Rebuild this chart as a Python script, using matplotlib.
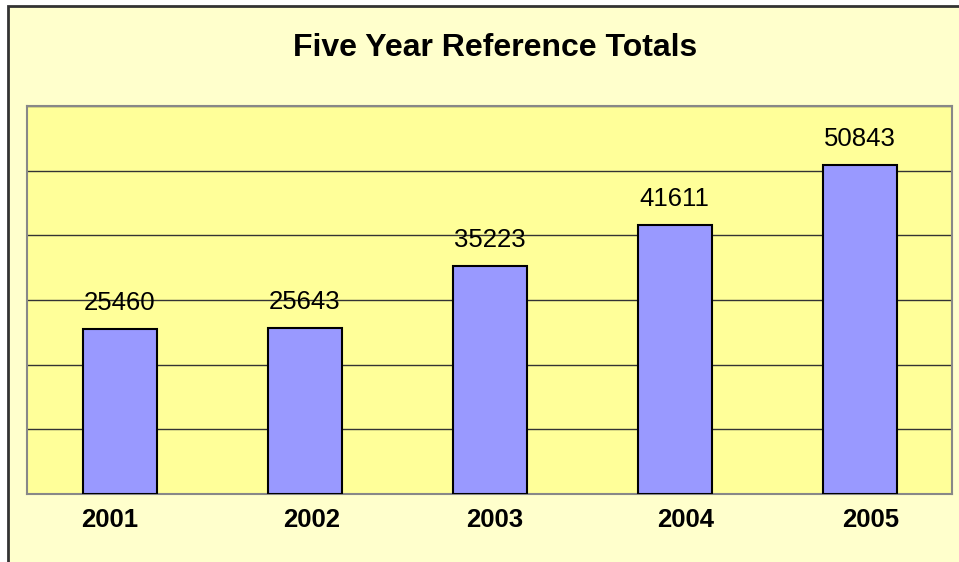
import matplotlib
matplotlib.use('Agg')
import matplotlib.pyplot as plt
from matplotlib.patches import Rectangle
from matplotlib.transforms import ScaledTranslation

years = ['2001', '2002', '2003', '2004', '2005']
totals = [25460, 25643, 35223, 41611, 50843]
title = 'Five Year Reference Totals'

plt.rcParams['font.family'] = ['Liberation Sans', 'DejaVu Sans']

W, H = 959, 562
fig = plt.figure(figsize=(W / 100, H / 100), dpi=100, facecolor='white')

# chart area frame (light yellow, dark border on top/left; cut off at right/bottom)
fig.patches.append(Rectangle((8 / W, -0.05), 1.1, (H - 6) / H + 0.05,
                             transform=fig.transFigure, facecolor='#FFFFCC',
                             edgecolor='#333333', linewidth=2, zorder=-10))

ax = fig.add_axes([27 / W, (H - 494) / H, (952 - 27) / W, (494 - 106) / H])
ax.set_facecolor('#FFFF99')

x = range(len(years))
bars = ax.bar(x, totals, width=0.4, color='#9999FF', edgecolor='black',
              linewidth=1.5, zorder=3)

for xi, v in zip(x, totals):
    ax.annotate(str(v), (xi, v), xytext=(0, 10), textcoords='offset points',
                ha='center', va='bottom', fontsize=18.5, zorder=4)

ax.set_xlim(-0.5, len(years) - 0.5)
ax.set_ylim(0, 60000)
ax.set_yticks(range(0, 60001, 10000))
ax.yaxis.grid(True, color='#333333', linewidth=1, zorder=1)
ax.set_axisbelow(True)
ax.tick_params(axis='y', left=False, labelleft=False)
ax.set_xticks(list(x))
ax.set_xticklabels(years, fontsize=18.5, fontweight='bold')
ax.tick_params(axis='x', length=0, pad=10)

# the year labels in the original sit a little off their bar centres
nudge_px = [-10, 7, 5.5, 11.5, 11.5]
for lab, dx in zip(ax.get_xticklabels(), nudge_px):
    lab.set_transform(lab.get_transform() +
                      ScaledTranslation(dx / 100, 0, fig.dpi_scale_trans))

for s in ax.spines.values():
    s.set_color('#888888')
    s.set_linewidth(1.5)

fig.text(495 / W, 1 - 48 / H, title, ha='center', va='center',
         fontsize=23, fontweight='bold')

fig.savefig('out.png', dpi=100)
